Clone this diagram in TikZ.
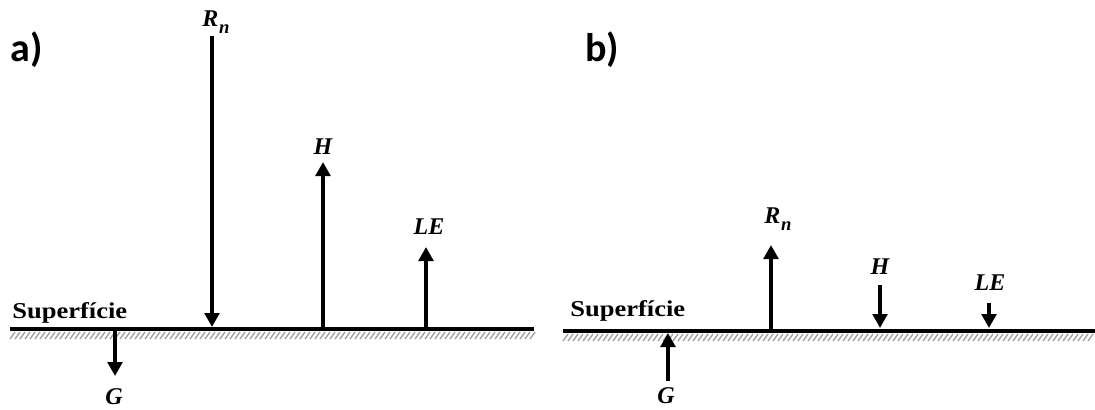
\documentclass[tikz,border=0pt]{standalone}
\usepackage{fontspec}
\usepackage{graphicx}
\setmainfont{Liberation Serif}
\newfontfamily\labfont{Carlito}
\usetikzlibrary{arrows.meta}
\newcommand{\Rnet}{R\kern0.5pt\raisebox{-0.3em}{\fontsize{14}{16}\selectfont n}}
\begin{document}
\begin{tikzpicture}[x=0.75pt,y=-0.75pt,
  flux/.style={line width=3pt,-{Triangle[width=11pt,length=10.5pt]}},
  surf/.style={line width=3.4pt},
  hatch/.style={gray!75,line width=1pt},
  sym/.style={font=\fontsize{18}{20}\selectfont\bfseries\itshape, inner sep=0pt},
  panel/.style={font=\labfont\fontsize{30}{32}\selectfont\bfseries, inner sep=0pt},
  surflab/.style={font=\fontsize{17}{19}\selectfont\bfseries, inner sep=0pt, anchor=base west}]
\useasboundingbox (0,0) rectangle (1095,410);

% ---------- panel a ----------
\node[panel] (pa) at (27,50) {a)};
\foreach \x in {10,15,...,530} {\draw[hatch] (\x,339) -- (\x+5,332);}
\coordinate (a0) at (10,329);
\coordinate (a1) at (534,329);
\draw[surf] (a0) -- (a1);
\node[surflab] (sa) at (12,318) {\scalebox{1.17}[1]{Superfície}};

\node[sym] (aR) at (216,22) {\Rnet};
\coordinate (aRs) at (212,36);
\coordinate (aRe) at (212,327);
\draw[flux] (aRs) -- (aRe);

\node[sym] (aH) at (323,147) {H};
\coordinate (aHs) at (323,328);
\coordinate (aHe) at (323,162);
\draw[flux] (aHs) -- (aHe);

\node[sym] (aL) at (429,227) {LE};
\coordinate (aLs) at (426,328);
\coordinate (aLe) at (426,247);
\draw[flux] (aLs) -- (aLe);

\node[sym] (aG) at (114,397) {G};
\coordinate (aGs) at (115,331);
\coordinate (aGe) at (115,376);
\draw[flux] (aGs) -- (aGe);

% ---------- panel b ----------
\node[panel] (pb) at (602,50) {b)};
\foreach \x in {563,568,...,1090} {\draw[hatch] (\x,341) -- (\x+5,334);}
\coordinate (b0) at (563,331);
\coordinate (b1) at (1095,331);
\draw[surf] (b0) -- (b1);
\node[surflab] (sb) at (570,316) {\scalebox{1.17}[1]{Superfície}};

\node[sym] (bR) at (778,219) {\Rnet};
\coordinate (bRs) at (771,329);
\coordinate (bRe) at (771,245);
\draw[flux] (bRs) -- (bRe);

\node[sym] (bH) at (880,267) {H};
\coordinate (bHs) at (880,285);
\coordinate (bHe) at (880,328);
\draw[flux] (bHs) -- (bHe);

\node[sym] (bL) at (990,283) {LE};
\coordinate (bLs) at (989,303);
\coordinate (bLe) at (989,328);
\draw[flux] (bLs) -- (bLe);

\node[sym] (bG) at (666,396) {G};
\coordinate (bGs) at (668,381);
\coordinate (bGe) at (668,333);
\draw[flux] (bGs) -- (bGe);
\end{tikzpicture}
\end{document}
